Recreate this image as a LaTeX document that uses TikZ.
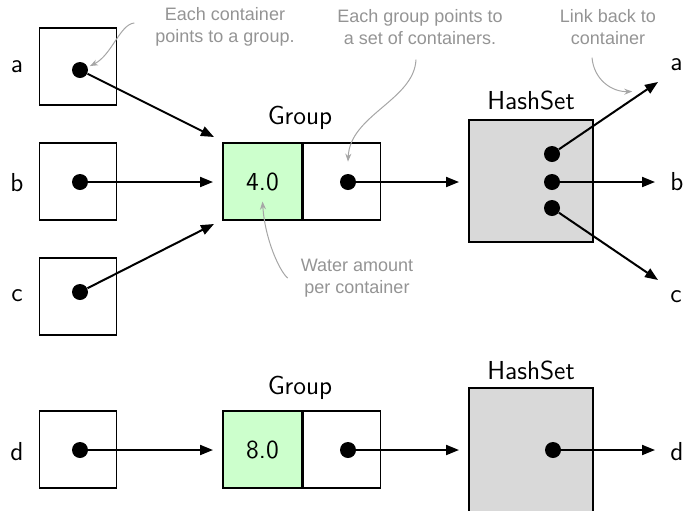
\documentclass[tikz,border=0pt]{standalone}
\usepackage{fontspec}
\newfontfamily\annotfont{Liberation Sans}
\usetikzlibrary{arrows.meta}
\definecolor{amountgreen}{HTML}{CCFFCC}
\definecolor{setgray}{HTML}{D9D9D9}
\tikzset{
  cell/.style={draw, line width=0.8pt, minimum width=38.5pt, minimum height=38.5pt, inner sep=0pt, font=\sffamily\fontsize{13}{15}\selectfont},
  amount/.style={cell, fill=amountgreen, minimum width=39.5pt},
  hashset/.style={draw, fill=setgray, line width=0.8pt, minimum width=62pt, inner sep=0pt},
  ptrdot/.style={circle, fill=black, minimum size=8pt, inner sep=0pt},
  ptr/.style={line width=1pt, -{Triangle[length=6.5pt,width=5pt]}},
  lbl/.style={font=\sffamily\fontsize{13}{15}\selectfont},
  annot/.style={text=black!42, font=\annotfont\fontsize{9}{11}\selectfont, align=center},
  annotarrow/.style={black!35, line width=0.5pt, -{Stealth[length=4pt,width=3pt]}}
}
\begin{document}
\begin{tikzpicture}[x=0.5pt, y=-0.5pt]
    \useasboundingbox (0,0) rectangle (686,510);

    % Containers a, b, c
    \node[lbl] (la) at (17,67) {a};
    \node[lbl] (lb) at (17,183) {b};
    \node[lbl] (lc) at (17,296) {c};
    \node[cell] (ca) at (78,66.5) {};
    \node[cell] (cb) at (78,181.5) {};
    \node[cell] (cc) at (78,296.5) {};
    \node[ptrdot] (pa) at (80,70) {};
    \node[ptrdot] (pb) at (80,182) {};
    \node[ptrdot] (pc) at (80,292) {};

    % First group
    \node[lbl] (grp1) at (300,118) {Group};
    \node[amount] (amt1) at (262.5,181.5) {4.0};
    \node[cell, anchor=west] (set1) at (amt1.east) {};
    \node[ptrdot] (g1) at (348,182) {};

    % First hash set
    \node[lbl] (hs1lbl) at (531,100) {HashSet};
    \node[hashset, minimum height=61pt] (hs1) at (531,181) {};
    \node[ptrdot] (h1a) at (552,154) {};
    \node[ptrdot] (h1b) at (552,182) {};
    \node[ptrdot] (h1c) at (552,208) {};
    \node[lbl, anchor=west, inner sep=0pt] (ra) at (670,65) {a};
    \node[lbl, anchor=west, inner sep=0pt] (rb) at (670,182) {b};
    \node[lbl, anchor=west, inner sep=0pt] (rc) at (670,297) {c};

    % Arrow end points
    \coordinate (ta) at (214,137);
    \coordinate (tb) at (213,182);
    \coordinate (tc) at (214,224);
    \coordinate (tg1) at (459,182);
    \coordinate (tra) at (658,82);
    \coordinate (trb) at (655,182);
    \coordinate (trc) at (658,280);

    \draw[ptr] (pa) -- (ta);
    \draw[ptr] (pb) -- (tb);
    \draw[ptr] (pc) -- (tc);
    \draw[ptr] (g1) -- (tg1);
    \draw[ptr] (h1a) -- coordinate[pos=0.74] (backref) (tra);
    \draw[ptr] (h1b) -- (trb);
    \draw[ptr] (h1c) -- (trc);

    % Container d with its own group
    \node[lbl] (ld) at (17,452) {d};
    \node[cell] (cd) at (78,449.5) {};
    \node[ptrdot] (pd) at (80,450) {};
    \node[lbl] (grp2) at (300,388) {Group};
    \node[amount] (amt2) at (262.5,449.5) {8.0};
    \node[cell, anchor=west] (set2) at (amt2.east) {};
    \node[ptrdot] (g2) at (348,450) {};
    \node[lbl] (hs2lbl) at (531,370) {HashSet};
    \node[hashset, minimum height=71pt] (hs2) at (531,459) {};
    \node[ptrdot] (h2d) at (553,450) {};
    \node[lbl, anchor=west, inner sep=0pt] (rd) at (670,452) {d};

    \coordinate (td) at (213,450);
    \coordinate (tg2) at (459,450);
    \coordinate (trd) at (655,450);

    \draw[ptr] (pd) -- (td);
    \draw[ptr] (g2) -- (tg2);
    \draw[ptr] (h2d) -- (trd);

    % Notes
    \node[annot] (n1) at (225,27) {Each container\\points to a group.};
    \node[annot] (n2) at (420,27) {Each group points to\\a set of containers.};
    \node[annot] (n3) at (608,27) {Link back to\\container};
    \node[annot] (n4) at (357,278) {Water amount\\per container};
    \coordinate (amtnote) at ([yshift=-10pt]amt1.center);

    \draw[annotarrow] ([xshift=-7pt,yshift=2pt]n1.west) .. controls (120,24) and (112,55) .. ([shift={(2pt,-1pt)}]pa.45);
    \draw[annotarrow] ([xshift=-2pt,yshift=-4pt]n2.south) .. controls (414,100) and (350,115) .. ([yshift=6pt]g1.north);
    \draw[annotarrow] ([xshift=-8pt,yshift=-3pt]n3.south) .. controls (594,80) and (612,92) .. ([yshift=4pt]backref);
    \draw[annotarrow] ([xshift=-3pt]n4.west) .. controls (280,272) and (265,240) .. (amtnote);
\end{tikzpicture}
\end{document}
